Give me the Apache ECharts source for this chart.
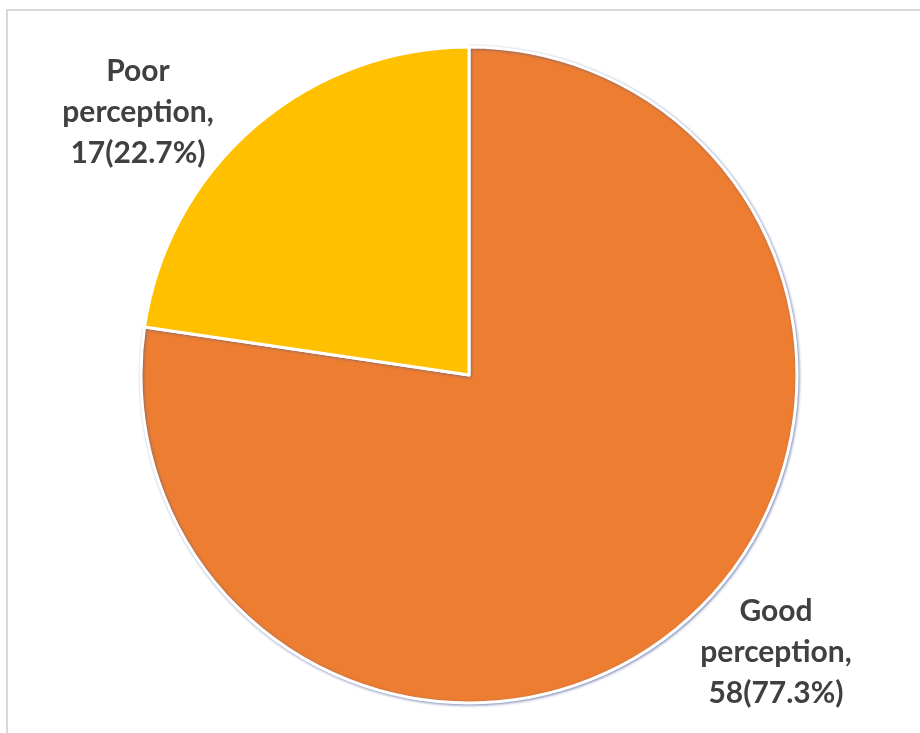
<!DOCTYPE html>
<html>
<head>
<meta charset="utf-8">
<script src="https://cdn.jsdelivr.net/npm/echarts@6/dist/echarts.min.js"></script>
<style>
  html, body { margin: 0; padding: 0; background: #fff; }
  #chart { width: 920px; height: 733px; }
</style>
</head>
<body>
<div id="chart"></div>
<script>
const categories = ['Good perception', 'Poor perception'];
const counts = [58, 17];
const sliceColors = ['#ED7D31', '#FFC000'];
// where each label block sits (centre), by slice
const labelSpots = [[776, 652], [138, 112]];

const myChart = echarts.init(document.getElementById('chart'));

const option = {
  backgroundColor: '#ffffff',
  graphic: [
    {
      type: 'rect',
      shape: { x: 7, y: 10, width: 1000, height: 1000 },
      style: { fill: 'none', stroke: '#d9d9d9', lineWidth: 2 },
      silent: true
    }
  ],
  series: [
    {
      type: 'pie',
      center: [469, 375],
      radius: 328,
      startAngle: 90,
      clockwise: true,
      percentPrecision: 1,
      itemStyle: {
        borderColor: '#ffffff',
        borderWidth: 3
      },
      label: {
        show: true,
        formatter: function (p) {
          return p.name.replace(' ', '\n') + ',\n' + p.value + '(' + p.percent.toFixed(1) + '%)';
        },
        fontFamily: 'Lato',
        fontWeight: 'bold',
        fontSize: 30,
        lineHeight: 41,
        color: '#404040',
        align: 'center',
        verticalAlign: 'middle'
      },
      labelLine: { show: false },
      labelLayout: function (params) {
        const s = labelSpots[params.dataIndex];
        return { x: s[0], y: s[1], align: 'center', verticalAlign: 'middle' };
      },
      emphasis: { disabled: true },
      data: categories.map(function (name, i) {
        const item = {
          name: name,
          value: counts[i],
          itemStyle: { color: sliceColors[i] }
        };
        if (i === 0) {
          item.itemStyle.shadowColor = 'rgba(70, 90, 150, 0.6)';
          item.itemStyle.shadowBlur = 3;
          item.itemStyle.shadowOffsetX = 1;
          item.itemStyle.shadowOffsetY = 1;
        }
        return item;
      })
    }
  ]
};

myChart.setOption(option);
window.addEventListener('resize', myChart.resize);
</script>
</body>
</html>
